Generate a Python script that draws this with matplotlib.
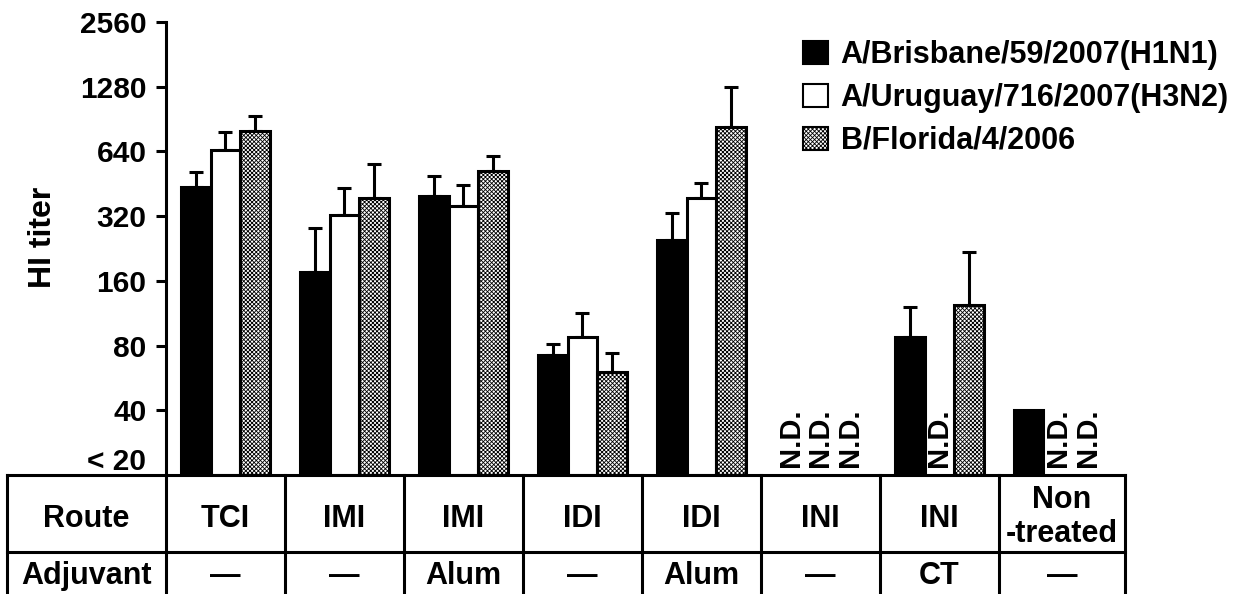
import numpy as np
import matplotlib
matplotlib.use('Agg')
import matplotlib.pyplot as plt
from matplotlib.patches import Patch
from matplotlib.lines import Line2D
from matplotlib.transforms import blended_transform_factory

plt.rcParams['font.family'] = ['Liberation Sans', 'DejaVu Sans']
plt.rcParams['font.weight'] = 'bold'
plt.rcParams['hatch.linewidth'] = 0.6

# data (nan = N.D.)
nd = np.nan
routes = ['TCI', 'IMI', 'IMI', 'IDI', 'IDI', 'INI', 'INI', 'Non\n-treated']
adjuvants = ['\u2014', '\u2014', 'Alum', '\u2014', 'Alum', '\u2014', 'CT', '\u2014']
strains = ['A/Brisbane/59/2007(H1N1)', 'A/Uruguay/716/2007(H3N2)', 'B/Florida/4/2006']
h1n1 = [436, 176, 399, 72, 249, nd, 88, 40]
h1n1_top = [516, 281, 490, 81, 331, nd, 121, nd]
h3n2 = [647, 323, 356, 88, 389, nd, nd, nd]
h3n2_top = [788, 433, 445, 114, 457, nd, nd, nd]
bflor = [800, 389, 521, 60, 827, nd, 124, nd]
bflor_top = [940, 559, 607, 74, 1282, nd, 217, nd]
yticks = [40, 80, 160, 320, 640, 1280, 2560]

W, H = 1257, 594
fig = plt.figure(figsize=(W / 100, H / 100), dpi=100)
ax = fig.add_axes([166 / W, (H - 475) / H, (1125 - 166) / W, (475 - 22) / H])

x = np.arange(len(routes))
bw = 0.25
hatch = 'xxxxxxxx'
series = [(h1n1, h1n1_top, 'black', None),
          (h3n2, h3n2_top, 'white', None),
          (bflor, bflor_top, 'white', hatch)]

for i, (vals, tops, fc, hh) in enumerate(series):
    vals = np.array(vals, dtype=float)
    tops = np.array(tops, dtype=float)
    xs = x + (i - 1) * bw
    ok = ~np.isnan(vals)
    ax.bar(xs[ok], vals[ok] - 20, bottom=20, width=bw, color=fc,
           edgecolor='black', linewidth=2.2, hatch=hh, zorder=2)
    e = ok & ~np.isnan(tops)
    ax.errorbar(xs[e], vals[e], yerr=[np.zeros(e.sum()), tops[e] - vals[e]],
                fmt='none', ecolor='black', elinewidth=2.2, capsize=5,
                capthick=2.2, zorder=1)
    for xi in xs[~ok]:
        ax.text(xi, 21.8, 'N.D.', rotation=90, ha='center', va='bottom',
                fontsize=21, fontweight='bold')

ax.set_yscale('log', base=2)
ax.set_ylim(20, 2560)
ax.set_xlim(-0.5, 7.56)
ax.set_yticks(yticks)
ax.set_yticklabels([str(t) for t in yticks])
ax.yaxis.set_minor_locator(matplotlib.ticker.NullLocator())
ax.set_xticks([])
ax.tick_params(axis='y', length=7, width=2.2, pad=7, labelsize=21.5)
for s in ['top', 'right', 'bottom']:
    ax.spines[s].set_visible(False)
ax.spines['left'].set_linewidth(2.2)
ax.text(-0.021, 21, '< 20', transform=ax.get_yaxis_transform(),
        ha='right', va='baseline', fontsize=21.5, fontweight='bold')
ax.set_ylabel('HI titer', fontsize=23, fontweight='bold')
ax.yaxis.set_label_coords(-0.113, 0.525)

# table under the axis
tr = blended_transform_factory(ax.transData, fig.transFigure)
y_top, y_mid = (H - 475) / H, (H - 552) / H
x_left = ax.transData.inverted().transform(fig.transFigure.transform((7 / W, 0)))[0]
edges = list(np.arange(-0.5, len(routes) - 0.5, 1.0)) + [7.56]
for yl in [y_top, y_mid]:
    fig.add_artist(Line2D([x_left, 7.56], [yl, yl], transform=tr,
                          color='black', linewidth=2.2))
for xe in [x_left] + edges:
    fig.add_artist(Line2D([xe, xe], [0, y_top], transform=tr,
                          color='black', linewidth=2.2))
fs_tab = 22
y_route = (H - 519) / H
y_adj = (H - 576) / H
cx_first = (x_left - 0.5) / 2
fig.text(cx_first, y_route, 'Route', transform=tr, ha='center', va='center', fontsize=fs_tab)
fig.text(cx_first, y_adj, 'Adjuvant', transform=tr, ha='center', va='center', fontsize=fs_tab)
for xi, r, a in zip(x, routes, adjuvants):
    cx = xi if xi < len(routes) - 1 else (xi - 0.5 + 7.56) / 2
    fig.text(cx, y_route if '\n' not in r else (H - 517) / H, r, transform=tr,
             ha='center', va='center', fontsize=fs_tab, linespacing=1.2)
    fig.text(cx, y_adj, a, transform=tr, ha='center', va='center', fontsize=fs_tab)

handles = [Patch(facecolor='black', edgecolor='black', linewidth=1.5),
           Patch(facecolor='white', edgecolor='black', linewidth=1.5),
           Patch(facecolor='white', edgecolor='black', linewidth=1.5, hatch=hatch)]
fig.legend(handles, strains, loc='upper left', bbox_to_anchor=(788 / W, (H - 25) / H),
           frameon=False, borderpad=0, handlelength=0.8, handleheight=0.8,
           handletextpad=0.42, labelspacing=0.42, prop={'weight': 'bold', 'size': 22})

fig.savefig('out.png', dpi=100)
